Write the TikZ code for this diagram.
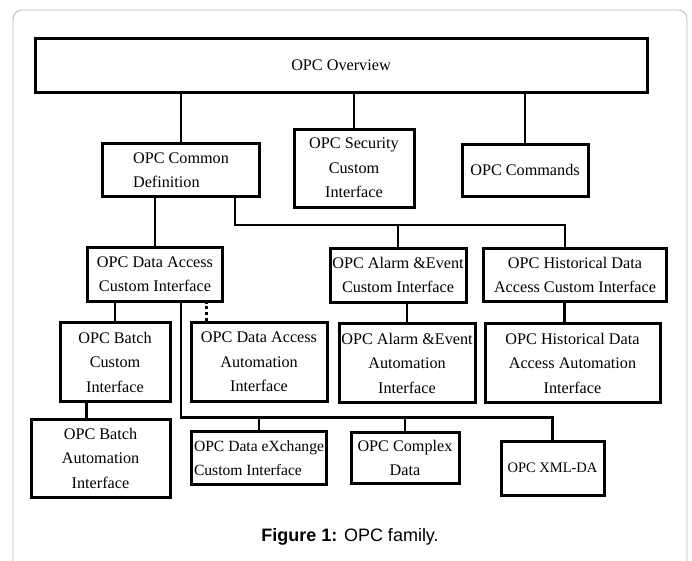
\documentclass[tikz,border=0pt]{standalone}
\usepackage{fontspec}
\setmainfont{Liberation Serif}
\newfontfamily\capfont{Liberation Sans}
\usepackage{tikz}
\usetikzlibrary{positioning}

\begin{document}
\begin{tikzpicture}[node distance=100pt, auto]
		\tikzstyle{box} = [rectangle, draw, line width=3pt, inner sep=0pt, align=center, font=\fontsize{16.2}{24.5}\selectfont]
		\tikzstyle{line} = [draw, line width=2.6pt]

		\clip (0,0) rectangle (692pt,-560pt);
		\draw [gray!55, line width=0.8pt, rounded corners=9pt] (13pt,-10pt) rectangle (687pt,-600pt);

		\node [box, minimum width=612pt, minimum height=54pt] (over) at (341pt,-65pt) {OPC Overview};

		\node [box, below of=over, xshift=-160pt, yshift=-5pt, minimum width=157pt, minimum height=53pt, align=left] (common) {OPC Common \\ Definition};
		\node [box, below of=over, xshift=13pt, yshift=-3pt, minimum width=120pt, minimum height=78pt] (security) {OPC Security \\ Custom \\ Interface};
		\node [box, below of=over, xshift=184pt, yshift=-5pt, minimum width=126pt, minimum height=52pt] (commands) {OPC Commands};

		\node [box, below of=common, xshift=-26pt, yshift=-4pt, minimum width=135pt, minimum height=54pt] (dacust) {OPC Data Access \\ Custom Interface};
		\node [box, below of=security, xshift=44pt, yshift=-7pt, minimum width=136pt, minimum height=54pt] (aecust) {OPC Alarm \&Event \\ Custom Interface};
		\node [box, right of=aecust, xshift=77pt, minimum width=183pt, minimum height=53pt] (hdacust) {OPC Historical Data \\ Access Custom Interface};

		\node [box, below of=dacust, xshift=-40pt, yshift=12pt, minimum width=110pt, minimum height=79pt] (batchcust) {OPC Batch \\ Custom \\ Interface};
		\node [box, right of=batchcust, xshift=44pt, minimum width=136pt, minimum height=79pt] (daauto) {OPC Data Access \\ Automation \\ Interface};
		\node [box, below of=aecust, xshift=9pt, yshift=12pt, minimum width=136pt, minimum height=79pt] (aeauto) {OPC Alarm \&Event \\ Automation \\ Interface};
		\node [box, below of=hdacust, xshift=-2.5pt, yshift=12pt, minimum width=175pt, minimum height=79pt] (hdaauto) {OPC Historical Data \\ Access Automation \\ Interface};

		\node [box, below of=batchcust, xshift=-14.5pt, yshift=4pt, minimum width=139pt, minimum height=78pt] (batchauto) {OPC Batch \\ Automation \\ Interface};
		\node [box, below of=daauto, yshift=4pt, minimum width=135pt, minimum height=53pt, align=left, font=\fontsize{15.6}{24.5}\selectfont] (dx) {OPC Data eXchange \\ Custom Interface};
		\node [box, right of=dx, xshift=46pt, minimum width=108pt, minimum height=51pt] (complex) {OPC Complex \\ Data};
		\node [box, right of=complex, xshift=47.5pt, yshift=-10pt, minimum width=103pt, minimum height=54pt, font=\fontsize{14.5}{20}\selectfont] (xml) {OPC XML-DA};

		\path [line] (common.north) -- (common.north |- over.south);
		\path [line] (security.north) -- (security.north |- over.south);
		\path [line] (commands.north) -- (commands.north |- over.south);

		\path [line] (dacust.north) -- (dacust.north |- common.south);
		\coordinate (bus1) at ([xshift=-26pt, yshift=-27pt]common.south east);
		\path [line] ([xshift=-26pt]common.south east) -- (bus1) -| ([xshift=-10pt]hdacust.north);
		\path [line] (aecust.north) -- (aecust.north |- bus1);

		\path [line] (batchcust.north) -- (batchcust.north |- dacust.south);
		\path [line, dashed] ([xshift=17pt]daauto.north west) -- ([xshift=17pt]daauto.north west |- dacust.south);
		\path [line] (aeauto.north) -- (aeauto.north |- aecust.south);
		\path [line] ([xshift=-8pt]hdaauto.north) -- ([xshift=-8pt]hdaauto.north |- hdacust.south);
		\path [line] ([xshift=57pt]batchauto.north west) -- ([xshift=57pt]batchauto.north west |- batchcust.south);

		\coordinate (bus2) at ([xshift=26pt, yshift=-115pt]dacust.south);
		\path [line] ([xshift=26pt]dacust.south) -- (bus2) -| (xml.north);
		\path [line] (dx.north) -- (dx.north |- bus2);
		\path [line] (complex.north) -- (complex.north |- bus2);

		\node (caption) at (350pt,-537pt) {\capfont\fontsize{18}{20}\selectfont \textbf{Figure 1:} OPC family.};
	\end{tikzpicture}
\end{document}
